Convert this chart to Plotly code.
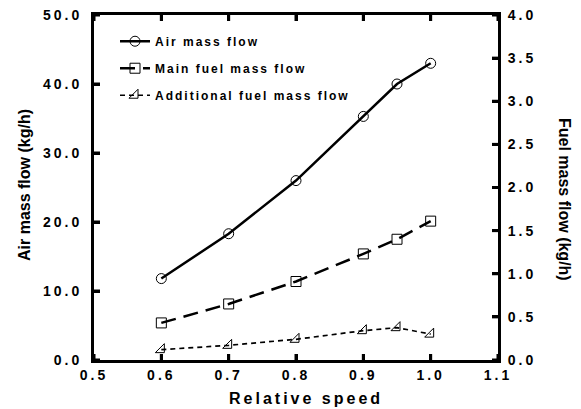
import plotly.graph_objects as go

speed = [0.6, 0.7, 0.8, 0.9, 0.95, 1.0]
air_flow = [11.8, 18.3, 26.0, 35.3, 40.0, 43.0]
main_fuel = [0.43, 0.65, 0.91, 1.23, 1.40, 1.61]
add_fuel = [0.12, 0.17, 0.24, 0.34, 0.375, 0.30]

x_ticks = [0.5, 0.6, 0.7, 0.8, 0.9, 1.0, 1.1]
y1_ticks = [0, 10, 20, 30, 40, 50]
y2_ticks = [0.0, 0.5, 1.0, 1.5, 2.0, 2.5, 3.0, 3.5, 4.0]

names = ["Air mass flow", "Main fuel mass flow", "Additional fuel mass flow"]
x_title = "Relative speed"
y1_title = "Air mass flow (kg/h)"
y2_title = "Fuel mass flow (kg/h)"


def sp(t, s):
    return f'<span style="letter-spacing:{s}px">{t}</span>'


FONT = "Liberation Sans"
W, H = 581, 409
ML, MR, MT, MB = 94, 83, 15, 49
PW, PH = W - ML - MR, H - MT - MB

fig = go.Figure()
fig.add_trace(go.Scatter(
    x=speed, y=air_flow, name=sp(names[0], 2), legendgroup="a",
    mode="lines+markers", line=dict(color="black", width=2.5),
    marker=dict(symbol="circle-open", size=10, color="black", line=dict(width=1)),
))
fig.add_trace(go.Scatter(
    x=speed, y=main_fuel, name=sp(names[1], 2), legendgroup="b", yaxis="y2",
    mode="lines+markers", line=dict(color="black", width=2.5, dash="15px,8px"),
    marker=dict(symbol="square-open", size=10, color="black", line=dict(width=1)),
))
fig.add_trace(go.Scatter(
    x=speed, y=add_fuel, name=sp(names[2], 2), legendgroup="c", yaxis="y2",
    mode="lines+markers", line=dict(color="black", width=1.7, dash="5px,4px"),
    marker=dict(symbol="triangle-se-open", size=10, color="black", line=dict(width=1)),
))

axis_common = dict(
    showline=True, linewidth=3, linecolor="black", ticks="inside",
    ticklen=6, tickwidth=3, tickcolor="black", showgrid=False, zeroline=False,
    automargin=False,
    tickfont=dict(family=FONT, size=14, color="black", weight="bold"),
)
title_font = dict(family=FONT, size=16, color="black", weight="bold")

# frame and tick marks as shapes (drawn through the axes' own scales)
line_style = dict(color="black", width=3)
shapes = [dict(type="rect", xref="paper", yref="paper",
               xsizemode="pixel", xanchor=0, x0=-1.5, x1=PW + 1.5,
               ysizemode="pixel", yanchor=0, y0=-1.5, y1=PH + 1.5,
               line=line_style, layer="above")]
for v in x_ticks:
    shapes.append(dict(type="line", xref="x", yref="paper", ysizemode="pixel",
                       yanchor=0, x0=v, x1=v, y0=0, y1=6, line=line_style))
    shapes.append(dict(type="line", xref="x", yref="paper", ysizemode="pixel",
                       yanchor=1, x0=v, x1=v, y0=0, y1=-6, line=line_style))
for v in y1_ticks:
    shapes.append(dict(type="line", xref="paper", yref="y", xsizemode="pixel",
                       xanchor=0, x0=0, x1=6, y0=v, y1=v, line=line_style))
for v in y2_ticks:
    shapes.append(dict(type="line", xref="paper", yref="y2", xsizemode="pixel",
                       xanchor=1, x0=0, x1=-6, y0=v, y1=v, line=line_style))

annotations = [
    dict(text=sp(x_title, 3), xref="paper", yref="paper", x=(306 - ML) / PW,
         y=(MT + PH - 398) / PH, xanchor="center", yanchor="middle",
         showarrow=False, font=title_font),
    dict(text=y1_title, xref="paper", yref="paper", x=(24 - ML) / PW,
         y=(MT + PH - 185) / PH, xanchor="center", yanchor="middle",
         textangle=-90, showarrow=False, font=title_font),
    dict(text=y2_title, xref="paper", yref="paper", x=(565 - ML) / PW,
         y=(MT + PH - 199) / PH, xanchor="center", yanchor="middle",
         textangle=90, showarrow=False, font=title_font),
]

fig.update_layout(
    width=W, height=H,
    margin=dict(l=ML, r=MR, t=MT, b=MB),
    paper_bgcolor="white", plot_bgcolor="white",
    font=dict(family=FONT, color="black"),
    showlegend=True,
    legend=dict(
        x=0.052, y=0.966, xanchor="left", yanchor="top",
        bgcolor="rgba(0,0,0,0)", borderwidth=0, traceorder="grouped",
        tracegroupgap=8,
        font=dict(family=FONT, size=12, color="black", weight="bold"),
    ),
    xaxis=dict(
        **axis_common, range=[0.5, 1.1], mirror="ticks",
        tickvals=x_ticks, ticktext=[sp(f"{v:.1f}", 3) for v in x_ticks],
    ),
    yaxis=dict(
        **axis_common, range=[0, 50], ticklabelstandoff=6,
        tickvals=y1_ticks, ticktext=[sp(f"{v:.1f}", 3) for v in y1_ticks],
    ),
    yaxis2=dict(
        **axis_common, range=[0, 4], overlaying="y", side="right",
        ticklabelstandoff=4,
        tickvals=y2_ticks, ticktext=[sp(f"{v:.1f}", 3) for v in y2_ticks],
    ),
    shapes=shapes,
    annotations=annotations,
)

page_fix = "document.body.style.margin='0';"
fig.write_html("out.html", post_script=page_fix, config={"staticPlot": True})
